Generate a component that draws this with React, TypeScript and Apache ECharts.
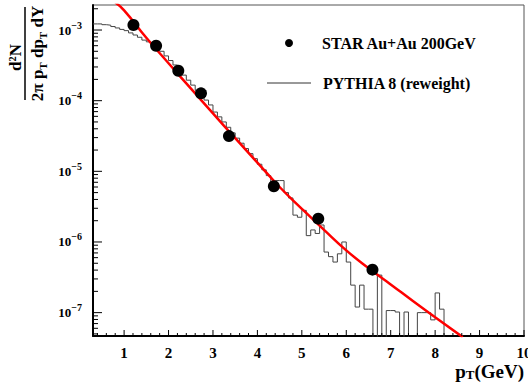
import React, { useEffect, useRef } from 'react';
import * as echarts from 'echarts';

// STAR Au+Au 200 GeV points
const starPt = [1.21, 1.72, 2.22, 2.73, 3.36, 4.37, 5.37, 6.59];
const starYield = [1.18e-3, 6.0e-4, 2.65e-4, 1.27e-4, 3.15e-5, 6.15e-6, 2.14e-6, 4.06e-7];

// red fit curve
const fitPt = [0.8, 1.0, 1.5, 2.0, 2.5, 3.0, 3.5, 4.0, 4.5, 5.0, 5.5, 6.0, 6.5, 7.0, 7.5, 8.0, 8.62];
const fitYield = [2.45e-3, 1.9e-3, 7.76e-4, 3.39e-4, 1.49e-4, 6.6e-5, 2.95e-5, 1.33e-5, 6.0e-6, 2.95e-6,
  1.48e-6, 7.6e-7, 4.27e-7, 2.51e-7, 1.46e-7, 8.6e-8, 4.5e-8];

// PYTHIA 8 histogram (bins of 0.1 GeV starting at 0.3)
const binStart = 0.3;
const binWidth = 0.1;
const pythiaYield = [
  1.22e-3, 1.22e-3, 1.19e-3, 1.17e-3, 1.12e-3, 1.07e-3, 1.02e-3, 9.8e-4, 9.1e-4, 8.5e-4,
  7.9e-4, 7.2e-4, 6.8e-4, 6.2e-4, 5.6e-4, 5.0e-4, 4.3e-4, 3.7e-4, 3.2e-4, 2.7e-4,
  2.3e-4, 1.95e-4, 1.66e-4, 1.41e-4, 1.17e-4, 1.02e-4, 8.7e-5, 6.9e-5, 5.9e-5, 5.0e-5,
  4.2e-5, 3.5e-5, 2.95e-5, 2.5e-5, 2.1e-5, 1.78e-5, 1.51e-5, 1.26e-5, 1.05e-5, 8.7e-6,
  6.8e-6, 7.4e-6, 7.4e-6, 5.0e-6, 4.2e-6, 2.4e-6, 2.24e-6, 2.8e-6, 1.23e-6, 1.48e-6,
  1.32e-6, 1.74e-6, 7.2e-7, 6.2e-7, 5.2e-7, 6.8e-7, 1.0e-6, 5.2e-7, 2.45e-7, 1.2e-7,
  2.45e-7, 1.12e-7, 1.12e-7, 0, 3.4e-7, 0, 1.07e-7, 1.07e-7, 1.02e-7, 0,
  1.02e-7, 0, 0, 1.0e-7, 1.0e-7, 1.0e-7, 7.9e-8, 1.9e-7, 1.12e-7, 0,
];

const X_MIN = 0.3;
const X_MAX = 10;
const Y_MIN = 4.67e-8;
const Y_MAX = 2.26e-3;

const seriesNames = ['STAR Au+Au 200GeV', 'PYTHIA 8 (reweight)'];

const SERIF = '"Liberation Serif", "DejaVu Serif", serif';

export default function App() {
  const ref = useRef<HTMLDivElement>(null);
  useEffect(() => {
    if (!ref.current) return;
    const chart = echarts.init(ref.current, null, { renderer: 'svg' });

    const histData: number[][] = [];
    pythiaYield.forEach((v, i) => {
      histData.push([+(binStart + i * binWidth).toFixed(2), v > 0 ? v : 1e-12]);
    });
    const lastEdge = +(binStart + pythiaYield.length * binWidth).toFixed(2);
    const lastV = pythiaYield[pythiaYield.length - 1];
    histData.push([lastEdge, lastV > 0 ? lastV : 1e-12]);

    // tick marks (ROOT style, inside)
    const yTicks: number[][] = [];
    for (let d = -8; d <= -3; d++) {
      for (let m = 1; m <= 9; m++) {
        const v = m * Math.pow(10, d);
        if (v >= Y_MIN && v <= Y_MAX) yTicks.push([X_MIN, v, m === 1 ? 1 : 0]);
      }
    }
    const xTicks: number[][] = [];
    for (let k = 2; k <= 50; k++) {
      const v = +(k * 0.2).toFixed(1);
      if (v > X_MIN && v <= X_MAX) xTicks.push([v, Y_MIN, Math.abs(v - Math.round(v)) < 1e-6 ? 1 : 0]);
    }

    const option: any = {
      animation: false,
      backgroundColor: '#fff',
      grid: {
        left: 93, right: 4, top: 5, bottom: 52,
        show: true, borderColor: '#555', borderWidth: 1,
        containLabel: false, outerBoundsMode: 'none',
      },
      xAxis: {
        type: 'value', min: X_MIN, max: X_MAX, splitNumber: 10,
        axisLine: { onZero: false, lineStyle: { color: '#000', width: 2 } },
        axisTick: { show: false },
        splitLine: { show: false },
        axisLabel: {
          margin: 9,
          color: '#000', fontFamily: SERIF, fontWeight: 'bold', fontSize: 15,
          formatter: (v: number) => (Math.abs(v - Math.round(v)) < 1e-6 ? String(Math.round(v)) : ''),
        },
      },
      yAxis: {
        type: 'log', logBase: 10, min: Y_MIN, max: Y_MAX,
        axisLine: { lineStyle: { color: '#000', width: 2 } },
        axisTick: { show: false },
        splitLine: { show: false },
        axisLabel: {
          margin: 11,
          formatter: (v: number) => {
            const l = Math.log10(v);
            const e = Math.round(l);
            if (Math.abs(l - e) > 1e-6) return '';
            return `{b|10}{s|−${-e}}`;
          },
          rich: {
            b: { fontSize: 13, fontWeight: 'bold', fontFamily: SERIF, color: '#000', lineHeight: 20 },
            s: { fontSize: 10, fontWeight: 'bold', fontFamily: SERIF, color: '#000', verticalAlign: 'top' },
          },
        },
      },
      series: [
        {
          name: seriesNames[1],
          type: 'line',
          step: 'end',
          data: histData,
          showSymbol: false,
          symbol: 'none',
          clip: true,
          lineStyle: { color: '#444', width: 1 },
          z: 2,
        },
        {
          name: 'fit',
          type: 'line',
          data: fitPt.map((x, i) => [x, fitYield[i]]),
          smooth: true,
          showSymbol: false,
          symbol: 'none',
          clip: true,
          lineStyle: { color: '#ff0000', width: 2.5 },
          z: 3,
        },
        {
          name: seriesNames[0],
          type: 'scatter',
          data: starPt.map((x, i) => [x, starYield[i]]),
          symbol: 'circle',
          symbolSize: 12,
          itemStyle: { color: '#000', opacity: 1 },
          z: 4,
        },
        {
          name: 'yticks',
          type: 'custom',
          data: yTicks,
          clip: false,
          silent: true,
          renderItem: (params: any, api: any) => {
            const p = api.coord([api.value(0), api.value(1)]);
            const len = api.value(2) === 1 ? 9 : 5;
            return {
              type: 'line',
              shape: { x1: p[0], y1: p[1], x2: p[0] + len, y2: p[1] },
              style: { stroke: '#000', lineWidth: 1 },
            };
          },
          z: 5,
        },
        {
          name: 'xticks',
          type: 'custom',
          data: xTicks,
          clip: false,
          silent: true,
          renderItem: (params: any, api: any) => {
            const p = api.coord([api.value(0), api.value(1)]);
            const len = api.value(2) === 1 ? 6 : 3;
            return {
              type: 'line',
              shape: { x1: p[0], y1: p[1], x2: p[0], y2: p[1] - len },
              style: { stroke: '#000', lineWidth: 1 },
            };
          },
          z: 5,
        },
      ],
      graphic: [
        // legend
        { type: 'circle', shape: { cx: 289, cy: 43, r: 4 }, style: { fill: '#000' } },
        {
          type: 'text', x: 322, y: 43,
          style: { text: seriesNames[0], fill: '#000', font: `bold 16px ${SERIF}`, align: 'left', verticalAlign: 'middle' },
        },
        { type: 'line', shape: { x1: 267, y1: 83, x2: 311, y2: 83 }, style: { stroke: '#333', lineWidth: 1 } },
        {
          type: 'text', x: 323, y: 83,
          style: { text: seriesNames[1], fill: '#000', font: `bold 16px ${SERIF}`, align: 'left', verticalAlign: 'middle' },
        },
        // x axis title
        {
          type: 'text', x: 524, y: 371,
          style: {
            text: '{p|p}{t|T}{p|(GeV)}',
            align: 'right', verticalAlign: 'middle',
            rich: {
              p: { fontSize: 19, fontWeight: 'bold', fontFamily: SERIF, fill: '#000', lineHeight: 20 },
              t: { fontSize: 13, fontWeight: 'bold', fontFamily: SERIF, fill: '#000', verticalAlign: 'bottom' },
            },
          },
        },
        // y axis title
        {
          type: 'group', x: 25, y: 53.5, rotation: Math.PI / 2,
          children: [
            {
              type: 'text', x: -4, y: -1,
              style: { text: 'd²N', fill: '#000', font: `bold 17px ${SERIF}`, align: 'center', verticalAlign: 'bottom' },
            },
            { type: 'line', shape: { x1: -46.5, y1: 0, x2: 46.5, y2: 0 }, style: { stroke: '#000', lineWidth: 1.5 } },
            {
              type: 'text', x: 0, y: 1,
              style: {
                text: '{m|2π p}{t|T}{m| dp}{t|T}{m| dY}',
                align: 'center', verticalAlign: 'top',
                rich: {
                  m: { fontSize: 17, fontWeight: 'bold', fontFamily: SERIF, fill: '#000', lineHeight: 22 },
                  t: { fontSize: 11, fontWeight: 'bold', fontFamily: SERIF, fill: '#000', verticalAlign: 'bottom' },
                },
              },
            },
          ],
        },
      ],
    };
    chart.setOption(option);
    return () => chart.dispose();
  }, []);
  return (
    <div
      ref={ref}
      style={{ position: 'fixed', left: 0, top: 0, width: 528, height: 388, background: '#fff' }}
    />
  );
}
